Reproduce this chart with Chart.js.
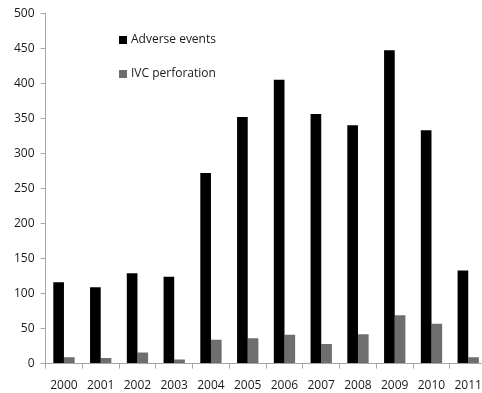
<!DOCTYPE html>
<html>
<head>
<meta charset="utf-8">
<script src="https://cdn.jsdelivr.net/npm/chart.js@4/dist/chart.umd.min.js"></script>
<style>
  html, body { margin: 0; padding: 0; background: #fff; overflow: hidden; }
  canvas { display: block; }
</style>
</head>
<body>
<canvas id="chart" width="492" height="405"></canvas>
<script>
const years = ['2000', '2001', '2002', '2003', '2004', '2005', '2006', '2007', '2008', '2009', '2010', '2011'];
const adverseEvents = [116, 109, 129, 124, 272, 352, 405, 356, 340, 447, 333, 133];
const ivcPerforation = [9, 8, 16, 6, 34, 36, 41, 28, 42, 69, 57, 9];
const yTicks = [0, 50, 100, 150, 200, 250, 300, 350, 400, 450, 500];

const FONT = { family: '"Open Sans", sans-serif', size: 12 };
const AXIS = '#a6a6a6';

// legend drawn inside the plot, two rows with a gap
const insideLegend = {
  id: 'insideLegend',
  afterDraw(chart) {
    const ctx = chart.ctx;
    ctx.save();
    ctx.font = '12px "Open Sans", sans-serif';
    ctx.textBaseline = 'middle';
    const rows = [40, 74];
    chart.data.datasets.forEach((ds, i) => {
      ctx.fillStyle = ds.backgroundColor;
      ctx.fillRect(119, rows[i] - 4, 8, 8);
      ctx.fillStyle = '#1a1a1a';
      ctx.fillText(ds.label, 131, rows[i]);
    });
    ctx.restore();
  }
};

new Chart(document.getElementById('chart'), {
  type: 'bar',
  data: {
    labels: years,
    datasets: [
      { label: 'Adverse events', data: adverseEvents, backgroundColor: '#000000' },
      { label: 'IVC perforation', data: ivcPerforation, backgroundColor: '#6e6e6e' },
    ],
  },
  options: {
    responsive: false,
    animation: false,
    layout: { padding: { left: 8, top: 13, right: 1, bottom: 2 } },
    datasets: { bar: { categoryPercentage: 0.58, barPercentage: 1.0 } },
    plugins: {
      legend: { display: false },
      tooltip: { enabled: false },
    },
    scales: {
      x: {
        grid: { drawOnChartArea: false, drawTicks: true, tickLength: 5, color: AXIS, offset: true },
        border: { color: AXIS },
        ticks: { font: FONT, color: '#1a1a1a', padding: 10, maxRotation: 0, autoSkip: false },
      },
      y: {
        min: 0,
        max: 500,
        afterBuildTicks(axis) { axis.ticks = yTicks.map(v => ({ value: v })); },
        grid: { drawOnChartArea: false, drawTicks: true, tickLength: 5, color: AXIS },
        border: { color: AXIS },
        ticks: { font: FONT, color: '#1a1a1a', padding: 6 },
      },
    },
  },
  plugins: [insideLegend],
});
</script>
</body>
</html>
